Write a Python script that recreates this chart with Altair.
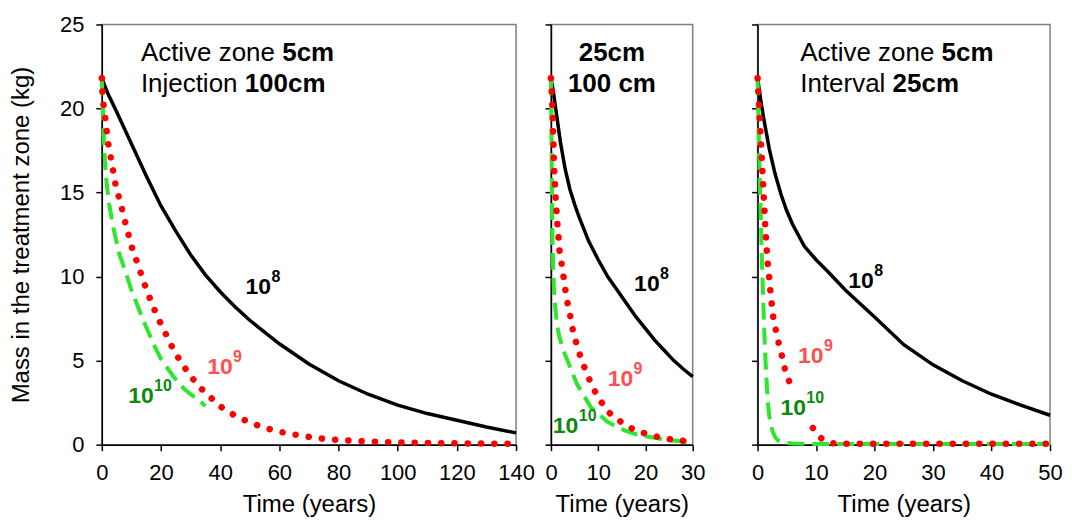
import altair as alt
import pandas as pd

FONT = "Liberation Sans"

# ---------------- Panel 1 : Active zone 5cm, Injection 100cm (0-140 years) ----------------
p1_black_t = [0, 2, 5, 10, 15, 20, 25, 30, 35, 40, 45, 50, 60, 70, 80, 90, 100, 110, 120, 130, 140]
p1_black_m = [21.8, 20.9, 19.8, 17.9, 16.0, 14.2, 12.7, 11.3, 10.1, 9.1, 8.2, 7.4, 6.0, 4.8, 3.8, 3.0, 2.35, 1.85, 1.45, 1.05, 0.7]

p1_red_t = [0, 0.2, 0.6, 1.1, 1.6, 2.2, 3.0, 3.8, 4.7, 5.8, 7.0, 8.1, 9.3, 10.7, 12.3, 13.7, 15.4, 17.1, 19.1,
            21.3, 23.5, 26.1, 29.1, 32.6, 37, 41.3, 45.8, 50.3, 54.6, 59, 63.4, 67.8, 72.3, 76.7, 81.2, 85.4,
            89.8, 94.2, 100, 110, 120, 130, 140]
p1_red_m = [21.8, 21.0, 20.2, 19.5, 18.7, 17.9, 17.1, 16.3, 15.4, 14.7, 13.9, 13.1, 12.3, 11.4, 10.7, 9.9, 9.1, 8.3,
            7.5, 6.7, 5.9, 5.1, 4.3, 3.5, 2.77, 2.1, 1.66, 1.29, 1.03, 0.81, 0.65, 0.52, 0.40, 0.32, 0.27, 0.22,
            0.19, 0.16, 0.13, 0.10, 0.08, 0.06, 0.05]

p1_green_t = [0, 0.3, 0.5, 0.8, 1.2, 1.6, 2.5, 4, 6, 8, 10, 12, 14, 16, 18, 20, 22, 24, 26, 28, 30, 32, 35]
p1_green_m = [21.8, 20.2, 19.0, 17.6, 16.5, 15.6, 14.3, 12.8, 11.3, 10.3, 9.2, 8.3, 7.4, 6.6, 5.8, 5.1, 4.6, 4.1,
              3.65, 3.3, 3.0, 2.75, 2.3]

# ---------------- Panel 2 : 25cm / 100 cm (0-30 years) ----------------
p2_black_t = [0, 0.5, 1, 2, 3, 4, 5, 6, 8, 10, 12, 14, 16, 18, 20, 22, 24, 26, 28, 30]
p2_black_m = [21.8, 21.0, 20.0, 18.0, 16.4, 15.2, 14.3, 13.5, 12.1, 11.0, 10.0, 9.2, 8.4, 7.6, 6.9, 6.2, 5.6, 5.0, 4.5, 4.05]

p2_red_t = [0, 0.15, 0.3, 0.4, 0.45, 0.55, 0.6, 0.7, 0.87, 1.0, 1.2, 1.4, 1.65, 1.85, 2.3, 2.7, 3.1, 3.6, 4.2, 4.7,
            5.5, 6.4, 7.5, 8.7, 10.2, 12.4, 15.2, 18, 21, 23.5, 26.2, 29, 30]
p2_red_m = [21.8, 21.0, 20.2, 19.4, 18.6, 17.8, 17.0, 16.2, 15.4, 14.6, 13.8, 13.0, 12.2, 11.4, 10.7, 9.9, 9.1, 8.3,
            7.5, 6.7, 5.9, 5.1, 4.3, 3.5, 2.7, 1.88, 1.27, 0.83, 0.58, 0.40, 0.28, 0.20, 0.18]

p2_green_t = [0, 0.1, 0.2, 0.3, 0.45, 0.6, 0.9, 1.3, 1.8, 2.5, 3.5, 4.5, 5.5, 7, 8.5, 10, 12, 14, 16, 18, 20, 22.5,
              25, 27.5, 30]
p2_green_m = [21.8, 18.5, 15.0, 12.6, 10.6, 9.4, 8.2, 7.1, 6.4, 5.7, 5.0, 4.3, 3.6, 2.9, 2.2, 1.85, 1.35, 1.05, 0.8,
              0.62, 0.5, 0.38, 0.27, 0.2, 0.14]

# ---------------- Panel 3 : Active zone 5cm, Interval 25cm (0-50 years) ----------------
p3_black_t = [0, 0.5, 1, 2, 3, 4, 5, 6, 8, 10, 12, 15, 20, 25, 30, 35, 40, 45, 50]
p3_black_m = [21.8, 20.6, 19.5, 17.6, 16.1, 14.9, 13.9, 13.1, 11.8, 11.0, 10.3, 9.2, 7.6, 5.95, 4.75, 3.8, 3.0, 2.35, 1.75]

p3_red_t = [0, 0.12, 0.24, 0.36, 0.48, 0.6, 0.72, 0.84, 0.96, 1.08, 1.2, 1.32, 1.45, 1.6, 1.76, 2.0, 2.2, 2.45, 2.7,
            3.2, 3.7, 4.3, 4.8, 5.7, 6.6, 7.5, 8.3, 9.2, 10, 11, 12, 13.3, 15, 20, 30, 40, 50]
p3_red_m = [21.8, 21.0, 20.2, 19.4, 18.6, 17.8, 17.0, 16.2, 15.4, 14.6, 13.8, 13.0, 12.2, 11.4, 10.7, 9.9, 9.1, 8.3,
            7.5, 6.7, 5.9, 5.1, 4.3, 3.5, 2.7, 2.0, 1.5, 1.13, 0.7, 0.34, 0.15, 0.06, 0.05, 0.05, 0.05, 0.05, 0.05]

p3_green_t = [0, 0.2, 0.4, 0.6, 0.8, 1.0, 1.2, 1.4, 1.6, 1.8, 2.0, 2.5, 3.0, 3.5, 4, 5, 6, 8, 10, 20, 30, 40, 50]
p3_green_m = [21.8, 18.5, 15.5, 12.8, 10.3, 8.2, 6.3, 4.7, 3.4, 2.4, 1.7, 0.85, 0.45, 0.25, 0.16, 0.1, 0.07, 0.05,
              0.04, 0.04, 0.04, 0.04, 0.04]

# ---------------- curve labels (10^n) ----------------
label_base = ["10", "10", "10"]
label_exp = ["8", "9", "10"]
label_color = ["#000000", "#ff5050", "#0b8a0b"]
p1_label_t = [48.6, 35.6, 8.9]
p1_label_m = [9.4, 4.6, 2.9]
p2_label_t = [17.6, 12.0, 0.4]
p2_label_m = [9.55, 3.9, 1.13]
p3_label_t = [15.5, 6.9, 3.9]
p3_label_m = [9.74, 5.28, 2.18]
p3_label_box = [False, False, True]

# ---------------- panel annotations ----------------
p1_note_t = 13.2
p1_note_m = [23.3, 21.45]
p1_note_plain = ["Active zone", "Injection"]
p1_note_bold = ["5cm", "100cm"]
p1_note_gap = [141.6, 104.0]

p2_note_t = 12.9
p2_note_m = [23.3, 21.45]
p2_note_bold = ["25cm", "100 cm"]

p3_note_t = 7.3
p3_note_m = [23.3, 21.45]
p3_note_plain = ["Active zone", "Interval"]
p3_note_bold = ["5cm", "25cm"]
p3_note_gap = [141.6, 92.5]

BLACK = "#000000"
RED = "#ff0000"
GREEN = "#2ee62e"
H = 421


def panel(xmax, xstep, black, red, green, lab_t, lab_m, show_y, box_flags=None):
    x_enc = alt.X("t:Q", scale=alt.Scale(domain=[0, xmax], nice=False, zero=True),
                  axis=alt.Axis(values=list(range(0, xmax + 1, xstep)), title="Time (years)", labelFlush=False))
    if show_y:
        y_axis = alt.Axis(values=[0, 5, 10, 15, 20, 25], title="Mass in the treatment zone (kg)")
    else:
        y_axis = alt.Axis(values=[0, 5, 10, 15, 20, 25], title=None, labels=False)
    y_enc = alt.Y("m:Q", scale=alt.Scale(domain=[0, 25], nice=False, zero=True), axis=y_axis)

    layers = []
    layers.append(alt.Chart(pd.DataFrame({"t": black[0], "m": black[1]})).mark_line(
        color=BLACK, strokeWidth=3.5).encode(x=x_enc, y=y_enc))
    layers.append(alt.Chart(pd.DataFrame({"t": green[0], "m": green[1]})).mark_line(
        color=GREEN, strokeWidth=4, strokeDash=[17, 8]).encode(x=x_enc, y=y_enc))
    layers.append(alt.Chart(pd.DataFrame({"t": red[0], "m": red[1]})).mark_line(
        color=RED, strokeWidth=6.5, strokeDash=[0.1, 13.2], strokeCap="round").encode(x=x_enc, y=y_enc))

    lab = pd.DataFrame({"t": lab_t, "m": lab_m, "base": label_base, "exp": label_exp, "c": label_color,
                        "box": box_flags if box_flags else [False] * 3})
    if lab["box"].any():
        layers.append(alt.Chart(lab[lab["box"]]).mark_point(
            shape="M-1.6,-1L1.6,-1L1.6,1L-1.6,1Z", size=1156, filled=True, color="white",
            opacity=1, strokeWidth=0, xOffset=21, yOffset=-1).encode(x="t:Q", y="m:Q"))
    layers.append(alt.Chart(lab).mark_text(align="left", baseline="middle", font=FONT, fontSize=23,
                                            fontWeight="bold").encode(
        x="t:Q", y="m:Q", text="base:N", color=alt.Color("c:N", scale=None)))
    layers.append(alt.Chart(lab).mark_text(align="left", baseline="middle", font=FONT, fontSize=16,
                                            fontWeight="bold", dx=26, dy=-10).encode(
        x="t:Q", y="m:Q", text="exp:N", color=alt.Color("c:N", scale=None)))
    return layers


def plain_bold_notes(t0, ms, plain, bold, gaps):
    df = pd.DataFrame({"t": [t0] * len(ms), "m": ms, "plain": plain, "bold": bold})
    out = [alt.Chart(df).mark_text(align="left", baseline="middle", font=FONT, fontSize=26,
                                   color="black").encode(x="t:Q", y="m:Q", text="plain:N")]
    for i in range(len(ms)):
        out.append(alt.Chart(df.iloc[[i]]).mark_text(align="left", baseline="middle", font=FONT, fontSize=26,
                                                    fontWeight="bold", color="black", dx=gaps[i]).encode(
            x="t:Q", y="m:Q", text="bold:N"))
    return out


def spacer(w):
    return alt.Chart(pd.DataFrame({"a": [0]})).mark_point(opacity=0).encode(
        x=alt.X("a:Q", axis=None), y=alt.Y("a:Q", axis=None)
    ).properties(width=w, height=H, view=alt.ViewBackground(strokeOpacity=0))


l1 = panel(140, 20, (p1_black_t, p1_black_m), (p1_red_t, p1_red_m), (p1_green_t, p1_green_m),
           p1_label_t, p1_label_m, True)
l1 += plain_bold_notes(p1_note_t, p1_note_m, p1_note_plain, p1_note_bold, p1_note_gap)
p1 = alt.layer(*l1).properties(width=415, height=H)

l2 = panel(30, 10, (p2_black_t, p2_black_m), (p2_red_t, p2_red_m), (p2_green_t, p2_green_m),
           p2_label_t, p2_label_m, False)
n2 = pd.DataFrame({"t": [p2_note_t] * 2, "m": p2_note_m, "bold": p2_note_bold})
l2.append(alt.Chart(n2).mark_text(align="center", baseline="middle", font=FONT, fontSize=26,
                                  fontWeight="bold", color="black").encode(x="t:Q", y="m:Q", text="bold:N"))
p2 = alt.layer(*l2).properties(width=142, height=H)

l3 = panel(50, 10, (p3_black_t, p3_black_m), (p3_red_t, p3_red_m), (p3_green_t, p3_green_m),
           p3_label_t, p3_label_m, False, p3_label_box)
l3 += plain_bold_notes(p3_note_t, p3_note_m, p3_note_plain, p3_note_bold, p3_note_gap)
p3 = alt.layer(*l3).properties(width=293, height=H)

chart = alt.hconcat(
    p1, spacer(35), p2, spacer(65), p3, spacing=0, bounds="flush"
).properties(
    padding={"left": 0, "top": 4, "right": 0, "bottom": 0}, background="white"
).configure_view(
    stroke="#7f7f7f", strokeWidth=1.5
).configure_axis(
    domainColor="black", domainWidth=1.5, tickColor="black", tickWidth=1.5, tickSize=6,
    labelFont=FONT, labelFontSize=22, labelColor="black", titleFont=FONT, titleFontSize=24,
    titleFontWeight="normal", titleColor="black", grid=False
).configure_axisY(
    labelPadding=12, titlePadding=26
).configure_axisX(
    labelPadding=12, titlePadding=9
)

chart.save("out.html", embed_options={"renderer": "svg", "actions": False})
